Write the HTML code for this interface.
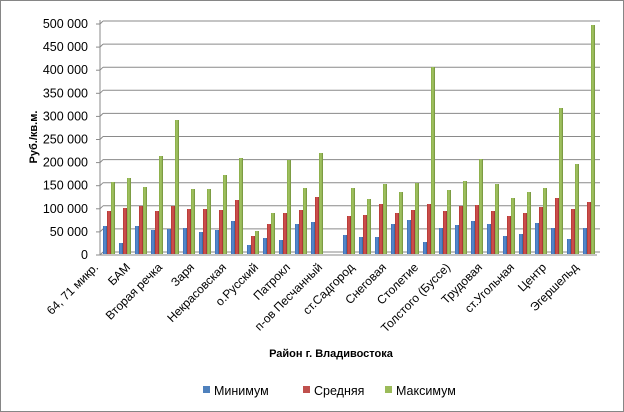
<!DOCTYPE html>
<html><head><meta charset="utf-8"><style>
html,body{margin:0;padding:0;background:#fff}
svg{display:block;font-family:"Liberation Sans",sans-serif}
</style></head><body>
<svg width="624" height="412" viewBox="0 0 624 412" xmlns="http://www.w3.org/2000/svg">
<defs>
<linearGradient id="gb" x1="0" x2="1"><stop offset="0" stop-color="#3a6db0"/><stop offset="0.5" stop-color="#5b8fd6"/><stop offset="1" stop-color="#365f95"/></linearGradient>
<linearGradient id="gr" x1="0" x2="1"><stop offset="0" stop-color="#b03633"/><stop offset="0.5" stop-color="#d65552"/><stop offset="1" stop-color="#983230"/></linearGradient>
<linearGradient id="gg" x1="0" x2="1"><stop offset="0" stop-color="#86aa45"/><stop offset="0.5" stop-color="#a5c765"/><stop offset="1" stop-color="#6f8d38"/></linearGradient>
</defs>
<rect x="0.5" y="0.5" width="623" height="411" fill="#fff" stroke="#868686"/>
<g id="grid" stroke="#8a8a8a" stroke-width="1"></g>
<g id="bars"></g>
<g id="ylab" font-size="12.5" fill="#000" text-anchor="end"></g>
<g id="xlab" font-size="12" fill="#000" text-anchor="end"></g>
<text x="37" y="137" font-size="11" font-weight="bold" text-anchor="middle" transform="rotate(-90 37 137)">Руб./кв.м.</text>
<text x="331" y="357" font-size="11" font-weight="bold" text-anchor="middle">Район  г. Владивостока</text>
<rect x="203" y="386" width="7" height="7" fill="#4f81bd"/><text x="214" y="395" font-size="12.5">Минимум</text>
<rect x="303" y="386" width="7" height="7" fill="#c0504d"/><text x="314" y="395" font-size="12.5">Средняя</text>
<rect x="385" y="386" width="7" height="7" fill="#9bbb59"/><text x="396" y="395" font-size="12.5">Максимум</text>
</svg>
<script>
const NS="http://www.w3.org/2000/svg";
function el(p,t,a,txt){const e=document.createElementNS(NS,t);for(const k in a)e.setAttribute(k,a[k]);if(txt!==undefined)e.textContent=txt;document.getElementById(p).appendChild(e);}
const vals=["0","50 000","100 000","150 000","200 000","250 000","300 000","350 000","400 000","450 000","500 000"];
for(let i=0;i<=10;i++){const y=253-i*23.1;
 el("grid","line",{x1:100,y1:y+2,x2:103,y2:y-1});
 el("grid","line",{x1:103,y1:y-1,x2:600,y2:y-1});
 el("grid","line",{x1:96,y1:y+2,x2:100,y2:y+2});
 el("ylab","text",{x:88,y:y+6},vals[i]);}
el("grid","line",{x1:100,y1:20,x2:100,y2:255});
el("grid","line",{x1:100,y1:255,x2:597,y2:255});
const d=[[226,211,182],[243,208,178],[226,206,187],[230,211,156],[229,206,120],[228,209,189],[232,209,189],[230,210,175],[221,200,158],[245,236,231],[238,224,213],[240,213,160],[224,210,188],[222,197,153],null,[235,216,188],[237,215,199],[237,204,184],[224,213,192],[220,210,183],[242,204,67],[228,211,190],[225,206,181],[221,205,159],[224,211,184],[236,216,198],[234,213,192],[223,207,188],[228,198,108],[239,209,164],[228,202,25]];
const g=["gb","gr","gg"];
d.forEach((v,i)=>{if(!v)return;const x0=103+16*i;v.forEach((t,j)=>{el("bars","rect",{x:x0+j*4,y:t,width:4,height:254-t,fill:"url(#"+g[j]+")"});});});
const L=["64, 71 микр.","БАМ","Вторая речка","Заря","Некрасовская","о.Русский","Патрокл","п-ов Песчанный","ст.Садгород","Снеговая","Столетие","Толстого (Буссе)","Трудовая","ст.Угольная","Центр","Эгершельд"];
L.forEach((s,k)=>{const cx=103+32*k-4;const y=268;el("xlab","text",{x:cx,y:y,transform:"rotate(-45 "+cx+" "+y+")"},s);});
</script>
</body></html>
